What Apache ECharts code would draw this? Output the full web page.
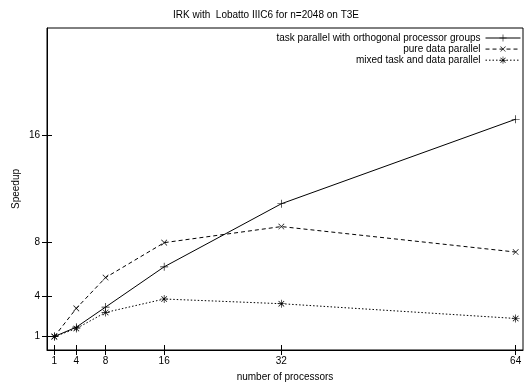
<!DOCTYPE html>
<html>
<head>
<meta charset="utf-8">
<script src="https://cdn.jsdelivr.net/npm/echarts@6/dist/echarts.min.js"></script>
<style>
  html, body { margin: 0; padding: 0; background: #fff; }
  #chart { width: 532px; height: 383px; }
</style>
</head>
<body>
<div id="chart"></div>
<script>
// processors on x, speedup on y
const procs = [1, 4, 8, 16, 32, 64];
const taskOrtho = [1, 1.7, 3.2, 6.2, 10.9, 17.2];
const pureData = [1, 3.1, 5.4, 8.0, 9.2, 7.3];
const mixed = [1, 1.6, 2.8, 3.8, 3.45, 2.35];
const xTicks = [1, 4, 8, 16, 32, 64];
const yTicks = [1, 4, 8, 16];

const font = 'Liberation Sans, Arial, sans-serif';
const plusPath = 'path://M-0.4,-5 L0.4,-5 L0.4,5 L-0.4,5 Z M-5,-0.4 L5,-0.4 L5,0.4 L-5,0.4 Z';
const starPath = 'path://M-0.4,-5 L0.4,-5 L0.4,5 L-0.4,5 Z M-5,-0.4 L5,-0.4 L5,0.4 L-5,0.4 Z' +
  ' M-3.8,-3.2 L-3.2,-3.8 L3.8,3.2 L3.2,3.8 Z M3.2,-3.8 L3.8,-3.2 L-3.2,3.8 L-3.8,3.2 Z';

function pairs(ys) { return procs.map((p, i) => [p, ys[i]]); }

const chart = echarts.init(document.getElementById('chart'));

const option = {
  animation: false,
  textStyle: { fontFamily: font, color: '#000' },
  title: {
    text: 'IRK with  Lobatto IIIC6 for n=2048 on T3E',
    left: 'center', top: 5,
    textStyle: { fontFamily: font, fontSize: 10, fontWeight: 'normal', color: '#000' }
  },
  legend: {
    orient: 'vertical', right: 11, top: 33, padding: 0,
    align: 'right', itemGap: 1, itemWidth: 35, itemHeight: 9,
    lineStyle: { width: 1 },
    textStyle: { fontFamily: font, fontSize: 10, color: '#000' },
    data: ['task parallel with orthogonal processor groups', 'pure data parallel', 'mixed task and data parallel']
  },
  grid: {
    left: 47, right: 9, top: 28, bottom: 33,
    outerBoundsMode: 'none', containLabel: false,
    show: true, borderColor: '#000', borderWidth: 1
  },
  xAxis: [{
    type: 'value', min: 0, max: 65,
    name: 'number of processors', nameLocation: 'middle', nameGap: 22,
    nameTextStyle: { fontFamily: font, fontSize: 10, color: '#000' },
    axisLine: { lineStyle: { color: '#000' } },
    axisTick: { inside: true, length: 5, customValues: xTicks, lineStyle: { color: '#000' } },
    axisLabel: { customValues: xTicks, fontFamily: font, fontSize: 10, color: '#000', margin: 6 },
    splitLine: { show: false }
  }, {
    type: 'value', min: 0, max: 65, position: 'top',
    axisLine: { show: false },
    axisTick: { inside: true, length: 5, customValues: xTicks, lineStyle: { color: '#000' } },
    axisLabel: { show: false },
    splitLine: { show: false }
  }],
  yAxis: [{
    type: 'value', min: 0, max: 24,
    name: 'Speedup', nameLocation: 'middle', nameGap: 26, nameRotate: 90, nameMoveOverlap: false,
    nameTextStyle: { fontFamily: font, fontSize: 10, color: '#000' },
    axisLine: { show: true, lineStyle: { color: '#000' } },
    axisTick: { show: true, inside: true, length: 5, customValues: yTicks, lineStyle: { color: '#000' } },
    axisLabel: { customValues: yTicks, fontFamily: font, fontSize: 10, color: '#000', margin: 7 },
    splitLine: { show: false }
  }, {
    type: 'value', min: 0, max: 24, position: 'right',
    axisLine: { show: false },
    axisTick: { show: true, inside: true, length: 5, customValues: yTicks, lineStyle: { color: '#000' } },
    axisLabel: { show: false },
    splitLine: { show: false }
  }],
  series: [{
    name: 'task parallel with orthogonal processor groups',
    type: 'line', data: pairs(taskOrtho),
    symbol: plusPath, symbolSize: 8,
    itemStyle: { color: '#000' },
    lineStyle: { color: '#000', width: 1, type: 'solid' }
  }, {
    name: 'pure data parallel',
    type: 'line', data: pairs(pureData),
    symbol: plusPath, symbolSize: 8, symbolRotate: 45,
    itemStyle: { color: '#000' },
    lineStyle: { color: '#000', width: 1, type: [4, 3] }
  }, {
    name: 'mixed task and data parallel',
    type: 'line', data: pairs(mixed),
    symbol: starPath, symbolSize: 8,
    itemStyle: { color: '#000' },
    lineStyle: { color: '#000', width: 1, type: [1.5, 2] }
  }]
};

chart.setOption(option);
</script>
</body>
</html>
